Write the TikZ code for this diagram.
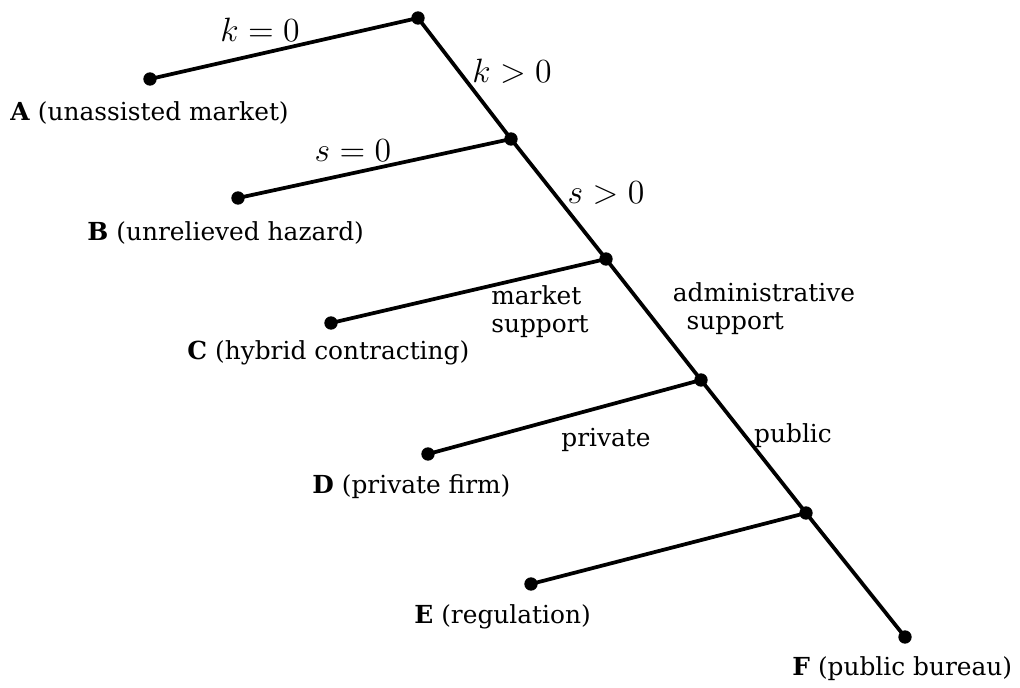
\documentclass[tikz,border=0pt]{standalone}
\usepackage{fontspec}
\setmainfont{DejaVu Serif}
\usepackage{tikz}
\usetikzlibrary{positioning}

\begin{document}
\begin{tikzpicture}[
  x=0.015cm,y=-0.015cm,font=\fontsize{10.6}{12}\selectfont,
  branch/.style={draw=black,line width=1.6pt},
  dot/.style={circle,fill=black,inner sep=0pt,minimum size=0.2cm},
  leaf/.style={anchor=west,inner sep=0pt},
  lab/.style={inner sep=0pt,align=center},
  mth/.style={lab,font=\fontsize{14}{16}\selectfont}
]
\useasboundingbox (0,0) rectangle (1020,688);

% decision points along the main stem
\node[dot] (top) at (418,18) {};
\node[dot] (ks) at (511,139) {};
\node[dot] (ss) at (606,259) {};
\node[dot] (adm) at (701,380) {};
\node[dot] (pub) at (806,513) {};
\node[dot] (f) at (905,637) {};

% end points of the side branches
\node[dot] (a) at (150,79) {};
\node[dot] (b) at (238,198) {};
\node[dot] (c) at (331,323) {};
\node[dot] (d) at (428,454) {};
\node[dot] (e) at (531,584) {};

\draw[branch] (top.center) -- (ks.center) -- (ss.center) -- (adm.center)
  -- (pub.center) -- (f.center);
\draw[branch] (top.center) -- (a.center);
\draw[branch] (ks.center) -- (b.center);
\draw[branch] (ss.center) -- (c.center);
\draw[branch] (adm.center) -- (d.center);
\draw[branch] (pub.center) -- (e.center);

% branch labels
\node[mth] (k0) at (260,30) {$k=0$};
\node[mth] (kp) at (512,71) {$k>0$};
\node[mth] (s0) at (353,151) {$s=0$};
\node[mth] (sp) at (606,193) {$s>0$};
\node[lab,align=left] (mkt) at (540,312) {market\\support};
\node[lab,align=left] (admsup) at (764,309) {administrative\\\hspace{0.55em}support};
\node[lab] (priv) at (606,440) {private};
\node[lab] (publ) at (793,436) {public};

% outcomes
\node[leaf] (la) at (10,113) {\textbf{A} (unassisted market)};
\node[leaf] (lb) at (87,233) {\textbf{B} (unrelieved hazard)};
\node[leaf] (lc) at (187,353) {\textbf{C} (hybrid contracting)};
\node[leaf] (ld) at (312,487) {\textbf{D} (private firm)};
\node[leaf] (le) at (414,617) {\textbf{E} (regulation)};
\node[leaf] (lf) at (792,669) {\textbf{F} (public bureau)};

\end{tikzpicture}
\end{document}
